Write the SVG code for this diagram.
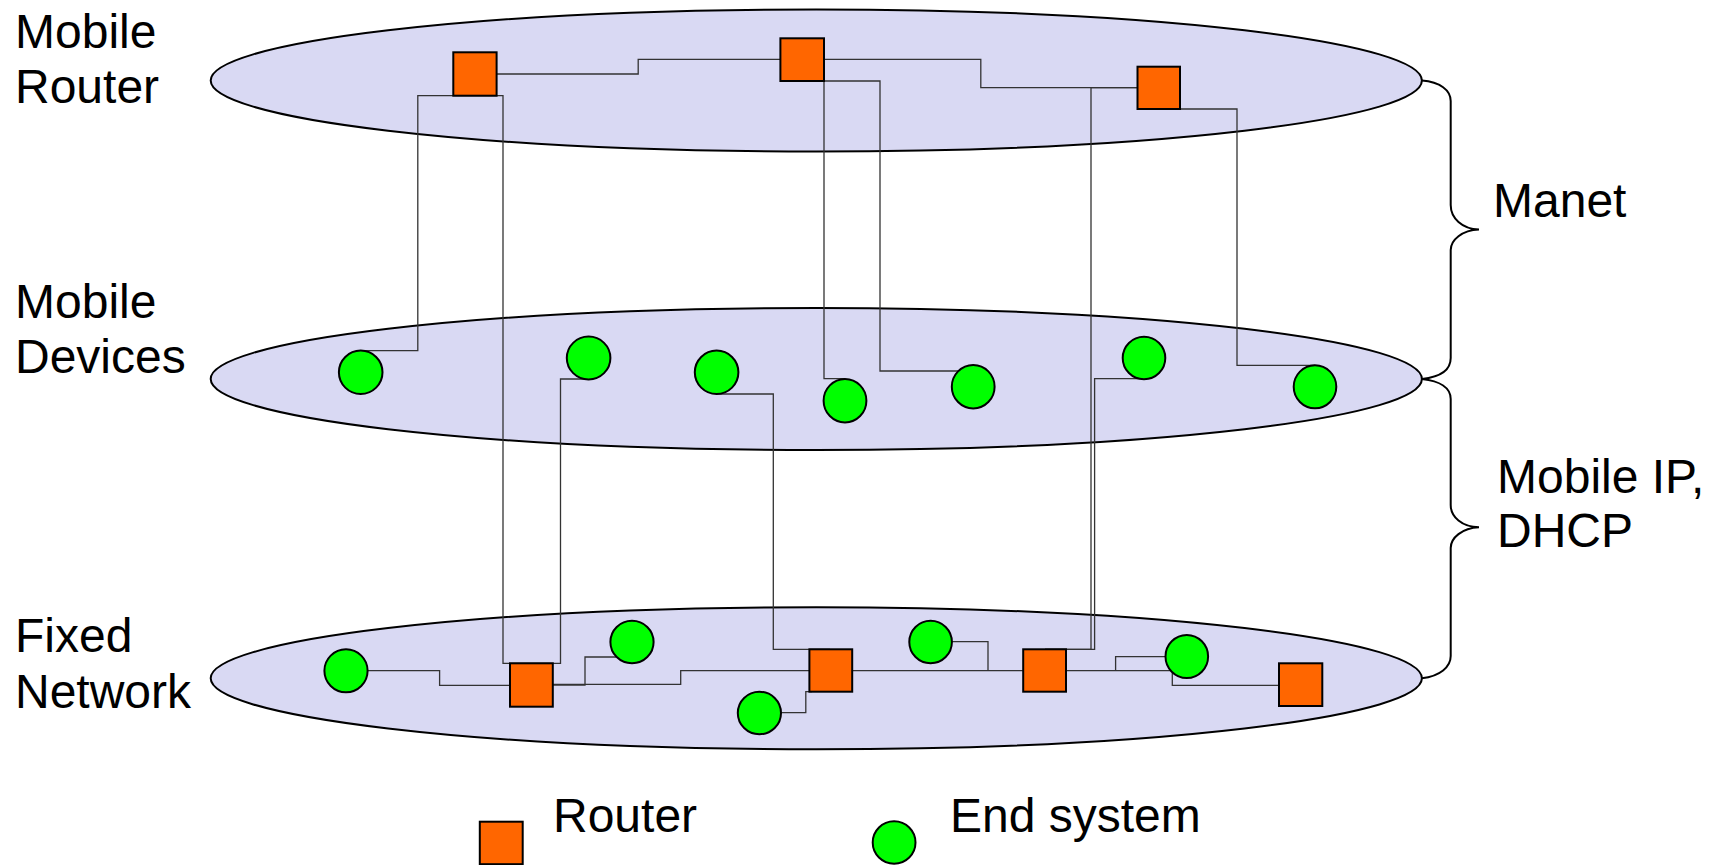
<svg xmlns="http://www.w3.org/2000/svg" width="1721" height="865" viewBox="0 0 1721 865">
<style>
.layer{fill:#d9d9f3;stroke:#000;stroke-width:2}
.rt{fill:#ff6600;stroke:#000;stroke-width:2}
.es{fill:#00ff00;stroke:#000;stroke-width:2}
.cn{fill:none;stroke:#333;stroke-width:1.3}
.br{fill:none;stroke:#000;stroke-width:2}
.lb{font-family:"Liberation Sans",Arial,sans-serif;font-size:48px;fill:#000}
</style>
<rect width="1721" height="865" fill="#fff"/>
<g id="layers">
<ellipse id="layer-router" class="layer" cx="816.3" cy="80.5" rx="605.6" ry="71"/>
<ellipse id="layer-devices" class="layer" cx="816.3" cy="379" rx="605.6" ry="71"/>
<ellipse id="layer-fixed" class="layer" cx="816.3" cy="678.3" rx="605.6" ry="71"/>
</g>
<g id="connectors">
<path class="cn" d="M496.6,74 H638.2 V59.3 H780.4"/>
<path class="cn" d="M824,59.3 H980.8 V87.7 H1137.5"/>
<path class="cn" d="M475,95.7 H417.8 V350.7 H360.7"/>
<path class="cn" d="M475,95.7 H503 V663.3 H531"/>
<path class="cn" d="M588.6,379 H560.5 V663.3 H531"/>
<path class="cn" d="M824,81 V378.7 H845"/>
<path class="cn" d="M824,81 H880 V371 H965"/>
<path class="cn" d="M1137.5,87.7 H1091 V649.3 H1045"/>
<path class="cn" d="M1144,378.7 H1094.6 V649.3 H1045"/>
<path class="cn" d="M1180,109 H1237 V365.3 H1315"/>
<path class="cn" d="M716.6,394 H773.3 V649.3 H830"/>
<path class="cn" d="M367.6,670.7 H439.6 V685.3 H510"/>
<path class="cn" d="M552.8,685 H585 V657 H616"/>
<path class="cn" d="M552.8,684.3 H680.7 V670.7 H809.4"/>
<path class="cn" d="M781,712.7 H805.8 V691.7 H812"/>
<path class="cn" d="M852.2,670.7 H1023.2"/>
<path class="cn" d="M951.8,641.7 H988 V670.7"/>
<path class="cn" d="M1066,670.7 H1171"/>
<path class="cn" d="M1115.6,670.7 V656.7 H1166"/>
<path class="cn" d="M1172.3,673 V685.3 H1279"/>
</g>
<g id="routers">
<g id="mr1"><rect class="rt" x="453.3" y="52.3" width="43.3" height="43.4"/></g>
<g id="mr2"><rect class="rt" x="780.4" y="38.3" width="43.6" height="42.7"/></g>
<g id="mr3"><rect class="rt" x="1137.5" y="66.7" width="42.5" height="42.3"/></g>
<g id="fr1"><rect class="rt" x="510" y="663.3" width="42.8" height="43.4"/></g>
<g id="fr2"><rect class="rt" x="809.4" y="649.3" width="42.8" height="42.4"/></g>
<g id="fr3"><rect class="rt" x="1023.2" y="649.3" width="42.8" height="42.4"/></g>
<g id="fr4"><rect class="rt" x="1279" y="663.3" width="43.3" height="42.7"/></g>
</g>
<g id="endsystems">
<g id="d1"><ellipse class="es" cx="360.7" cy="372.3" rx="21.8" ry="21.7"/></g>
<g id="d2"><ellipse class="es" cx="588.6" cy="358" rx="21.8" ry="21.4"/></g>
<g id="d3"><ellipse class="es" cx="716.6" cy="372.3" rx="21.8" ry="21.7"/></g>
<g id="d4"><ellipse class="es" cx="845" cy="400.7" rx="21.4" ry="21.7"/></g>
<g id="d5"><ellipse class="es" cx="973.2" cy="386.7" rx="21.4" ry="21.7"/></g>
<g id="d6"><ellipse class="es" cx="1144" cy="358" rx="21.3" ry="21.3"/></g>
<g id="d7"><ellipse class="es" cx="1315" cy="386.8" rx="21.3" ry="21.5"/></g>
<g id="f1"><ellipse class="es" cx="346" cy="670.8" rx="21.6" ry="21.5"/></g>
<g id="f2"><ellipse class="es" cx="632" cy="642" rx="21.6" ry="21.3"/></g>
<g id="f3"><ellipse class="es" cx="759.4" cy="713" rx="21.6" ry="21.3"/></g>
<g id="f4"><ellipse class="es" cx="930.6" cy="642" rx="21.3" ry="21.3"/></g>
<g id="f5"><ellipse class="es" cx="1186.8" cy="656.5" rx="21.3" ry="21.5"/></g>
</g>
<g id="braces">
<path class="br" d="M1421.9,80.5 C1440,82 1450.7,90 1450.7,101 V205 C1450.7,218 1462,229 1479,229.4 C1462,230 1450.7,240 1450.7,250 V358 C1450.7,370 1440,377 1421.9,379"/>
<path class="br" d="M1421.9,379 C1440,381 1450.7,388 1450.7,399 V505 C1450.7,517 1462,527 1479,527.3 C1462,528 1450.7,538 1450.7,548 V656 C1450.7,667 1440,676 1421.9,678.3"/>
</g>
<g id="labels">
<text class="lb" x="15" y="48">Mobile</text>
<text class="lb" x="15" y="103">Router</text>
<text class="lb" x="15" y="318">Mobile</text>
<text class="lb" x="15" y="373">Devices</text>
<text class="lb" x="15" y="652">Fixed</text>
<text class="lb" x="15" y="708">Network</text>
<text class="lb" x="1493" y="217">Manet</text>
<text class="lb" x="1497" y="493">Mobile IP,</text>
<text class="lb" x="1497" y="547">DHCP</text>
</g>
<g id="legend">
<g id="legend-router"><rect class="rt" x="479.8" y="821.7" width="42.9" height="42.5"/><text class="lb" x="553" y="832">Router</text></g>
<g id="legend-end"><ellipse class="es" cx="894.1" cy="842.5" rx="21.4" ry="21.2"/><text class="lb" x="950" y="832">End system</text></g>
</g>
</svg>
